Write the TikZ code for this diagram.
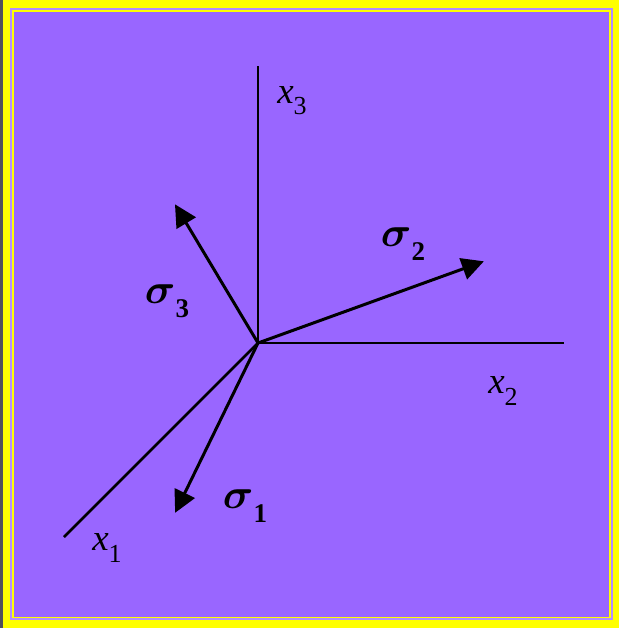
\documentclass[tikz,border=0pt]{standalone}
\usepackage{amsmath}
\usepackage{graphicx}
\usepackage{fontspec}
\setmainfont{Liberation Serif}
\usetikzlibrary{arrows.meta}
\definecolor{bgyellow}{HTML}{FFFF00}
\definecolor{bgpurple}{HTML}{9966FF}
\definecolor{lilac}{HTML}{B38CFF}
\definecolor{edgegray}{HTML}{50505C}
\tikzset{
  axis/.style={line width=2.6pt, black},
  stress/.style={line width=3pt, black, -{Triangle[length=22pt,width=22pt]}, shorten >=-2pt},
  axlabel/.style={inner sep=0pt, font=\fontsize{37}{42}\selectfont},
  siglabel/.style={inner sep=0pt, font=\fontsize{24.88}{30}\selectfont}
}
\newcommand{\axl}[1]{\textit{x}\raisebox{-0.3em}{\fontsize{26}{28}\selectfont #1}}
\newcommand{\sgl}[1]{\scalebox{1.7}{$\boldsymbol{\sigma}$}\raisebox{-0.55em}{\fontsize{27}{30}\selectfont\bfseries #1}}
\begin{document}
\begin{tikzpicture}[x=1pt,y=-1pt]
\useasboundingbox (0,0) rectangle (619,628);
\fill[bgyellow] (0,0) rectangle (619,628);
\fill[edgegray] (0,0) rectangle (3,628);
\draw[lilac, line width=2pt] (11,9) rectangle (612,619);
\fill[bgpurple] (14,12) rectangle (609,617);
% axes
\coordinate (O) at (258,343);
\coordinate (X3) at (258,66);
\coordinate (X2) at (564,343);
\coordinate (X1) at (64,537);
\draw[axis] (O) -- (X3);
\draw[axis] (O) -- (X2);
\draw[axis] (O) -- (X1);
% stress vectors
\coordinate (S3) at (176,206);
\coordinate (S2) at (482,262);
\coordinate (S1) at (176,511);
\draw[stress] (O) -- (S3);
\draw[stress] (O) -- (S2);
\draw[stress] (O) -- (S1);
% labels
\node[axlabel] (lx3) at (292,101) {\axl{3}};
\node[axlabel] (lx2) at (503,391) {\axl{2}};
\node[axlabel] (lx1) at (107,548) {\axl{1}};
\node[siglabel] (ls3) at (167,301) {\sgl{3}};
\node[siglabel] (ls2) at (403,244) {\sgl{2}};
\node[siglabel] (ls1) at (245,506) {\sgl{1}};
\end{tikzpicture}
\end{document}
